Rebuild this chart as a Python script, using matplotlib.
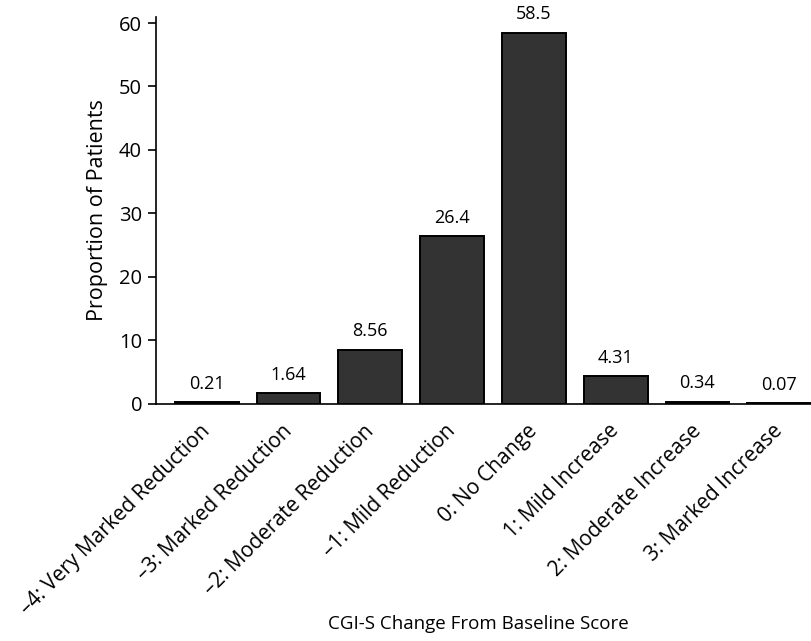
import numpy as np
import matplotlib.pyplot as plt
import matplotlib.transforms as mtransforms

plt.rcParams['font.family'] = ['Open Sans', 'DejaVu Sans']

categories = ["\u20134: Very Marked Reduction", "\u20133: Marked Reduction",
              "\u20132: Moderate Reduction", "\u20131: Mild Reduction",
              "0: No Change", "1: Mild Increase", "2: Moderate Increase",
              "3: Marked Increase"]
values = [0.21, 1.64, 8.56, 26.4, 58.5, 4.31, 0.34, 0.07]
value_labels = ["0.21", "1.64", "8.56", "26.4", "58.5", "4.31", "0.34", "0.07"]

fig = plt.figure(figsize=(8.12, 6.41), dpi=100)
ax = fig.add_axes([0.192, 0.370, 0.808, 0.604])

x = np.arange(len(categories))
ax.bar(x, values, width=0.78, color="#333333", edgecolor="black", linewidth=1.4)

for xi, v, lab in zip(x, values, value_labels):
    ax.annotate(lab, (xi, v), xytext=(0, 7), textcoords="offset points",
                ha="center", va="bottom", fontsize=13)

ax.set_xlim(-0.62, 7.4)
ax.set_ylim(0, 61)
ax.set_yticks([0, 10, 20, 30, 40, 50, 60])
ax.tick_params(axis="y", direction="out", length=6, width=1.2, labelsize=14.5, pad=4)
ax.set_xticks(x)
ax.set_xticklabels(categories, rotation=45, ha="right", rotation_mode="anchor", fontsize=15)
ax.tick_params(axis="x", length=0, pad=12)

# nudge the rotated labels a bit left so they end near the bar centre
shift = mtransforms.ScaledTranslation(-7 / 100, 0, fig.dpi_scale_trans)
for lbl in ax.get_xticklabels():
    lbl.set_transform(lbl.get_transform() + shift)

for s in ["top", "right"]:
    ax.spines[s].set_visible(False)
ax.spines["left"].set_linewidth(1.2)
ax.spines["bottom"].set_linewidth(1.2)

ax.set_ylabel("Proportion of Patients", fontsize=15.5, labelpad=8)
fig.text(0.589, 0.018, "CGI-S Change From Baseline Score", ha="center", fontsize=13.5)

fig.savefig("out.png", dpi=100)
